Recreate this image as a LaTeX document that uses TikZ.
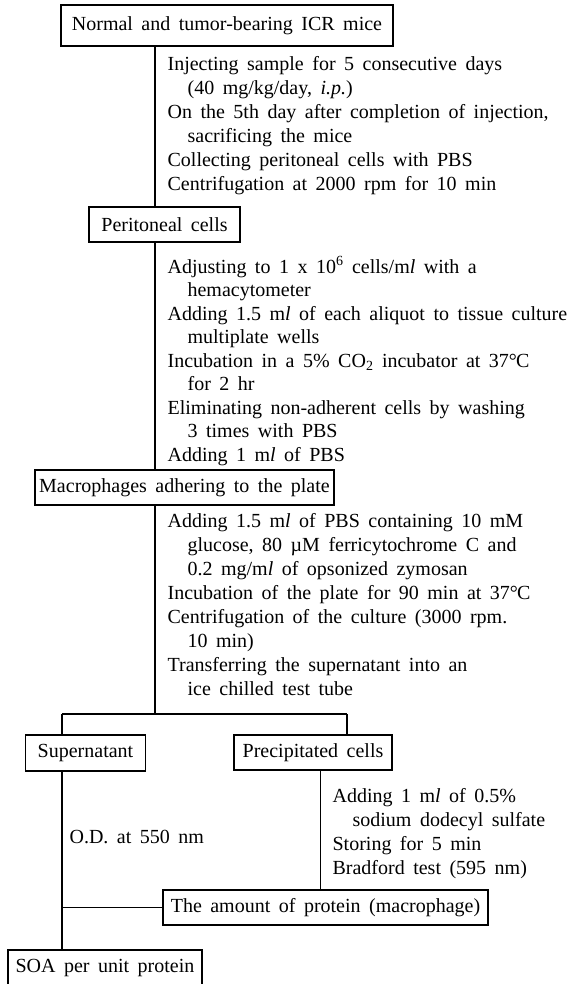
\documentclass[tikz,border=0pt]{standalone}
\usepackage{fontspec}
\setmainfont{Liberation Serif}[WordSpace=1.7]
\newcommand{\ml}{m\textit{l}}
\newcommand{\ind}{\hspace*{1em}}
\begin{document}
\begin{tikzpicture}[x=1pt,y=-1pt,line width=1.2pt,
  box/.style={draw,inner sep=0pt,font=\fontsize{20}{24}\selectfont},
  note/.style={anchor=north west,inner sep=0pt,align=left,font=\fontsize{20}{24}\selectfont}]
\clip (0,0) rectangle (582,984);
\fill[white] (0,0) rectangle (582,984);
% boxes
\node[box,minimum width=332,minimum height=41] (mice) at (227,25.5) {Normal and tumor-bearing ICR mice};
\node[box,minimum width=151,minimum height=35] (perit) at (164.5,224.5) {Peritoneal cells};
\node[box,minimum width=299,minimum height=35] (macro) at (184.5,487.5) {Macrophages adhering to the plate};
\node[box,minimum width=120,minimum height=36] (supern) at (85.5,753) {Supernatant};
\node[box,minimum width=158,minimum height=35] (precip) at (313,752.5) {Precipitated cells};
\node[box,minimum width=325,minimum height=35] (protein) at (325.5,907.5) {The amount of protein (macrophage)};
\node[box,minimum width=194,minimum height=36] (soa) at (105,968) {SOA per unit protein};
% steps
\node[note] (stepA) at (167,56) {Injecting sample for 5 consecutive days\\
  \ind(40 mg/kg/day, \textit{i.p.})\\
  On the 5th day after completion of injection,\\
  \ind sacrificing the mice\\
  Collecting peritoneal cells with PBS\\
  Centrifugation at 2000 rpm for 10 min};
\node[note,font=\fontsize{20}{23.5}\selectfont] (stepB) at (167,256) {Adjusting to 1 x 10\textsuperscript{6} cells/\ml{} with a\\
  \ind hemacytometer\\
  Adding 1.5 \ml{} of each aliquot to tissue culture\\
  \ind multiplate wells\\
  Incubation in a 5\% CO\textsubscript{2} incubator at 37°\kern-1pt C\\
  \ind for 2 hr\\
  Eliminating non-adherent cells by washing\\
  \ind 3 times with PBS\\
  Adding 1 \ml{} of PBS};
\node[note] (stepC) at (167,513) {Adding 1.5 \ml{} of PBS containing 10 mM\\
  \ind glucose, 80 µM ferricytochrome C and\\
  \ind 0.2 mg/\ml{} of opsonized zymosan\\
  Incubation of the plate for 90 min at 37°\kern-1pt C\\
  Centrifugation of the culture (3000 rpm.\\
  \ind 10 min)\\
  Transferring the supernatant into an\\
  \ind ice chilled test tube};
\node[note] (stepD) at (332,788) {Adding 1 \ml{} of 0.5\%\\
  \ind sodium dodecyl sulfate\\
  Storing for 5 min\\
  Bradford test (595 nm)};
\node[note,anchor=west] (od) at (69,837) {O.D. at 550 nm};
% connectors
\coordinate (trunk) at (155,0);
\coordinate (splitL) at (62,714);
\coordinate (splitR) at (347,714);
\coordinate (drop) at (320.6,0);
\draw (mice.south -| trunk) -- (perit.north -| trunk);
\draw (perit.south -| trunk) -- (macro.north -| trunk);
\draw (macro.south -| trunk) -- (trunk |- splitL);
\draw (splitL) -- (splitR);
\draw (splitL) -- (splitL |- supern.north);
\draw (splitR) -- (splitR |- precip.north);
\draw (supern.south -| splitL) -- (soa.north -| splitL);
\draw (protein.west) -- (protein.west -| splitL);
\draw (precip.south -| drop) -- (protein.north -| drop);
\end{tikzpicture}
\end{document}
